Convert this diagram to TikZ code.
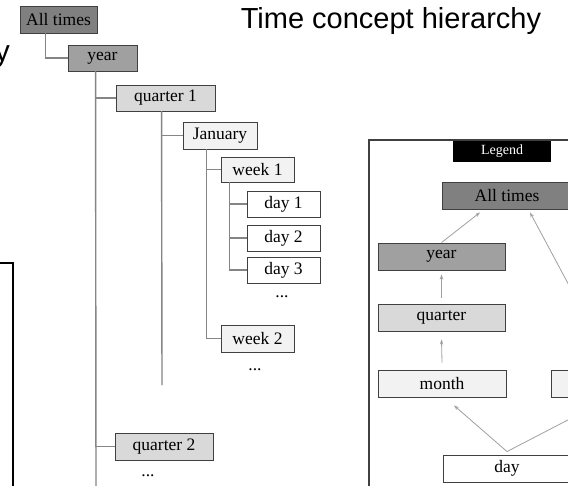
\documentclass[tikz,border=0pt]{standalone}
\usepackage{fontspec}
\setmainfont{Liberation Serif}
\newfontfamily\titlefont{Liberation Sans}
\usetikzlibrary{arrows.meta}
\definecolor{cAT}{HTML}{808080}
\definecolor{cYear}{HTML}{A0A0A0}
\definecolor{cQuarter}{HTML}{D9D9D9}
\definecolor{cMonth}{HTML}{F2F2F2}
\definecolor{cEdge}{HTML}{404040}
\definecolor{cLine}{HTML}{858585}
\definecolor{cArrow}{HTML}{A0A0A0}
\tikzset{
  box/.style={draw=cEdge, line width=0.9pt, inner sep=0pt, font=\fontsize{17.5}{20}\selectfont},
  treeline/.style={draw=cLine, line width=1.4pt},
  legarrow/.style={draw=cArrow, line width=0.8pt, -{Stealth[length=5pt,width=3.5pt]}},
  dotstext/.style={inner sep=0pt, anchor=base, font=\fontsize{17.5}{20}\selectfont},
}
\begin{document}
\begin{tikzpicture}[x=1pt,y=-1pt]
\clip (0,0) rectangle (568,485);
\fill[white] (0,0) rectangle (568,485);

% titles
\node[inner sep=0pt, anchor=base, font=\titlefont\fontsize{29}{33}\selectfont] (title) at (391,28.5) {Time concept hierarchy};
\node[inner sep=0pt, anchor=base east, font=\titlefont\fontsize{30}{34}\selectfont] (lefttitle) at (10,61) {y};

% left cut-off frame
\draw[black, line width=1.4pt] (-50,263) rectangle (13,530);

% tree nodes
\node[box, fill=cAT, minimum width=77, minimum height=27] (AT) at (58.5,19.5) {All times};
\node[box, fill=cYear, minimum width=69, minimum height=26] (year) at (102.5,58) {year};
\node[box, fill=cQuarter, minimum width=99, minimum height=26] (q1) at (165.5,98) {quarter 1};
\node[box, fill=cMonth, minimum width=74, minimum height=27] (jan) at (220,135.5) {January};
\node[box, fill=cMonth, minimum width=73, minimum height=25] (w1) at (257.5,169.5) {week 1};
\node[box, fill=white, minimum width=73, minimum height=26] (d1) at (283.5,204) {day 1};
\node[box, fill=white, minimum width=73, minimum height=26] (d2) at (283.5,238) {day 2};
\node[box, fill=white, minimum width=73, minimum height=26] (d3) at (283.5,270) {day 3};
\node[dotstext] (dots1) at (282,297) {...};
\node[box, fill=cMonth, minimum width=73, minimum height=27] (w2) at (257.5,338.5) {week 2};
\node[dotstext] (dots2) at (255,370) {...};
\node[box, fill=cQuarter, minimum width=98, minimum height=27] (q2) at (164,446.5) {quarter 2};
\node[dotstext] (dots3) at (148,476) {...};

\coordinate (yearEnd) at (96,495);
\coordinate (q1End) at (162,385);

% tree connectors
\draw[treeline] ([xshift=26]AT.south west) |- (year.west);
\draw[treeline] ([xshift=28]year.south west) -- (yearEnd);
\draw[treeline] ([xshift=28]year.south west) |- (q1.west);
\draw[treeline] ([xshift=28]year.south west) |- (q2.west);
\draw[treeline] ([xshift=46]q1.south west) -- (q1End);
\draw[treeline] ([xshift=46]q1.south west) |- (jan.west);
\draw[treeline] ([xshift=24]jan.south west) |- (w1.west);
\draw[treeline] ([xshift=24]jan.south west) |- (w2.west);
\draw[treeline] ([xshift=9]w1.south west) |- (d1.west);
\draw[treeline] ([xshift=9]w1.south west) |- (d2.west);
\draw[treeline] ([xshift=9]w1.south west) |- (d3.west);

% legend panel
\draw[draw=cEdge, line width=1.4pt] (369,140) rectangle (620,530);
\node[fill=black, text=white, inner sep=0pt, minimum width=98, minimum height=21, font=\fontsize{14}{16}\selectfont] (leg) at (502,151.5) {Legend};
\node[box, fill=cAT, minimum width=130, minimum height=27] (LAT) at (507,195.5) {All times};
\node[box, fill=cYear, minimum width=127, minimum height=27] (Lyear) at (441.5,256.5) {year};
\node[box, fill=cQuarter, minimum width=127, minimum height=27] (Lq) at (441.5,317.5) {quarter};
\node[box, fill=cMonth, minimum width=128, minimum height=27] (Lm) at (442,383.5) {month};
\node[box, fill=cMonth, minimum width=127, minimum height=27] (Lw) at (614.5,383.5) {};
\node[box, fill=white, minimum width=128, minimum height=27] (Lday) at (507,468.5) {day};

% legend arrows
\draw[legarrow] (Lyear.north) -- ([xshift=-27,yshift=-3]LAT.south);
\draw[legarrow] ([yshift=6]Lq.north) -- ([yshift=-4]Lyear.south);
\draw[legarrow] ([yshift=7]Lm.north) -- ([yshift=-8]Lq.south);
\draw[legarrow] ([yshift=3]Lday.north) -- ([xshift=12,yshift=-8]Lm.south);
\draw[legarrow] ([yshift=3]Lday.north) -- ([xshift=-9,yshift=-3]Lw.south);
\draw[legarrow] ([xshift=-2,yshift=3]Lw.north) -- ([xshift=23,yshift=-3]LAT.south);
\end{tikzpicture}
\end{document}
